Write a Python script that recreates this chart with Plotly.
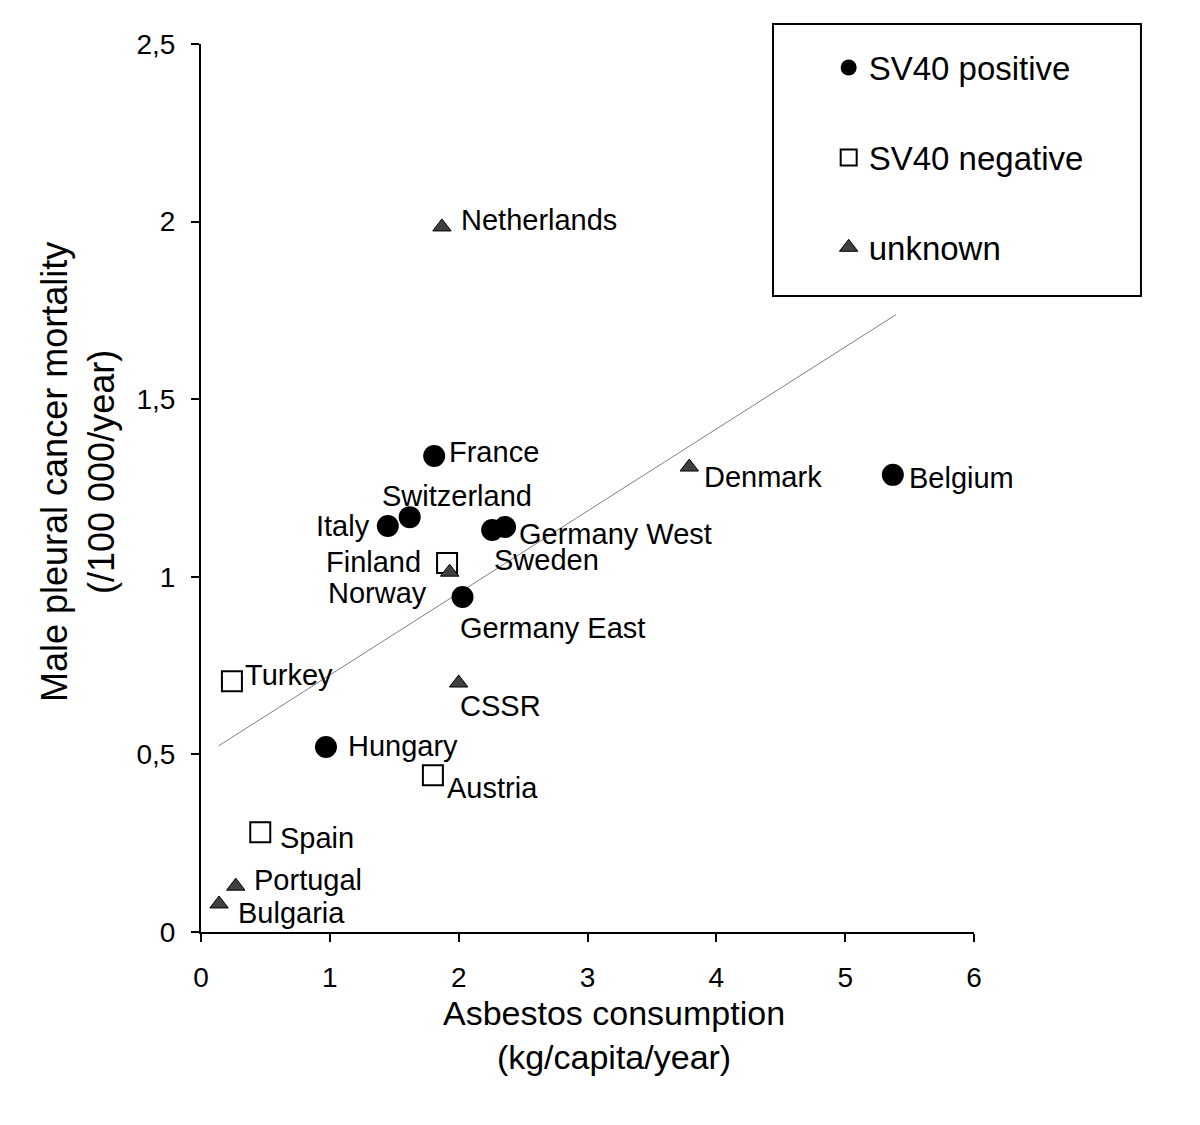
import plotly.graph_objects as go

FONT = "Liberation Sans, Arial, sans-serif"

# ---- data ----
pos_names = ["France", "Switzerland", "Italy", "Sweden", "Germany West",
             "Germany East", "Belgium", "Hungary"]
pos_x = [1.81, 1.62, 1.45, 2.26, 2.36, 2.03, 5.37, 0.97]
pos_y = [1.34, 1.168, 1.143, 1.132, 1.140, 0.943, 1.287, 0.521]

neg_names = ["Finland", "Turkey", "Austria", "Spain"]
neg_x = [1.91, 0.24, 1.80, 0.46]
neg_y = [1.039, 0.706, 0.441, 0.281]

unk_names = ["Netherlands", "Norway", "Denmark", "CSSR", "Portugal", "Bulgaria"]
unk_x = [1.87, 1.93, 3.79, 2.00, 0.27, 0.14]
unk_y = [1.985, 1.013, 1.309, 0.701, 0.129, 0.079]

trend_x = [0.136, 5.394]
trend_y = [0.524, 1.738]

x_ticks = [0, 1, 2, 3, 4, 5, 6]
y_ticks = [0, 0.5, 1, 1.5, 2, 2.5]
y_ticktext = ["0", "0,5", "1", "1,5", "2", "2,5"]

# label placement: (xanchor, xshift, yshift)
label_style = {
    "France": ("left", 13, 4),
    "Switzerland": ("center", 47, 21),
    "Italy": ("right", -16, 0),
    "Sweden": ("left", 0, -30),
    "Germany West": ("left", 12, -7),
    "Germany East": ("left", -5, -31),
    "Belgium": ("left", 14, -3),
    "Hungary": ("left", 20, 1),
    "Finland": ("right", -24, 1),
    "Turkey": ("left", 11, 6),
    "Austria": ("left", 12, -13),
    "Spain": ("left", 18, -6),
    "Netherlands": ("left", 17, 7),
    "Norway": ("right", -21, -21),
    "Denmark": ("left", 13, -10),
    "CSSR": ("left", -1, -23),
    "Portugal": ("left", 16, 6),
    "Bulgaria": ("left", 17, -9),
}

fig = go.Figure()

fig.add_trace(go.Scatter(
    x=trend_x, y=trend_y, mode="lines",
    line=dict(color="#808080", width=1), showlegend=False, hoverinfo="skip"))

fig.add_trace(go.Scatter(
    x=pos_x, y=pos_y, mode="markers", name="SV40 positive", legendgroup="a",
    marker=dict(symbol="circle", size=22, color="black", line=dict(width=0)),
    text=pos_names))
fig.add_trace(go.Scatter(
    x=neg_x, y=neg_y, mode="markers", name="SV40 negative", legendgroup="b",
    marker=dict(symbol="square-open", size=20, color="black", line=dict(width=2)),
    text=neg_names))
fig.add_trace(go.Scatter(
    x=unk_x, y=unk_y, mode="markers", name="unknown", legendgroup="c",
    marker=dict(symbol="triangle-up", size=16, color="#404040",
                line=dict(width=1, color="black")),
    text=unk_names))

annotations = []
for names, xs, ys in [(pos_names, pos_x, pos_y), (neg_names, neg_x, neg_y), (unk_names, unk_x, unk_y)]:
    for n, xv, yv in zip(names, xs, ys):
        xa, xs_, ys_ = label_style[n]
        annotations.append(dict(
            x=xv, y=yv, xref="x", yref="y", text=n, showarrow=False,
            xanchor=xa, yanchor="middle", xshift=xs_, yshift=ys_,
            font=dict(family=FONT, size=29, color="black")))

# axis titles
annotations.append(dict(
    x=0.5, y=0, xref="paper", yref="paper", xanchor="center", yanchor="top",
    xshift=26, yshift=-60, showarrow=False,
    text="Asbestos consumption<br>(kg/capita/year)",
    font=dict(family=FONT, size=34, color="black")))
annotations.append(dict(
    x=0, y=0.5, xref="paper", yref="paper", xanchor="right", yanchor="middle",
    xshift=-77, yshift=16, showarrow=False, textangle=-90,
    text="Male pleural cancer mortality<br>(/100 000/year)",
    font=dict(family=FONT, size=36, color="black")))

fig.update_layout(
    width=1200, height=1125,
    margin=dict(l=193, r=234, t=36, b=201),
    paper_bgcolor="white", plot_bgcolor="white",
    font=dict(family=FONT, color="black"),
    annotations=annotations,
    showlegend=True,
    legend=dict(
        x=0.812, y=1.005, xanchor="left", yanchor="top",
        bgcolor="rgba(0,0,0,0)", borderwidth=0,
        font=dict(family=FONT, size=33, color="black"),
        tracegroupgap=44, itemsizing="trace"),
    shapes=[dict(type="rect", xref="paper", yref="paper",
                 x0=0.740, x1=1.216, y0=0.7162, y1=1.0225,
                 line=dict(color="black", width=2), fillcolor="rgba(0,0,0,0)",
                 layer="below")],
)

fig.update_xaxes(
    range=[0, 6], tickvals=x_ticks, ticktext=[str(v) for v in x_ticks],
    showgrid=False, zeroline=False, showline=True, linecolor="black", linewidth=2,
    ticks="outside", ticklen=8, tickwidth=2, tickcolor="black",
    tickfont=dict(family=FONT, size=28, color="black"), ticklabelstandoff=11)
fig.update_yaxes(
    range=[0, 2.5], tickvals=y_ticks, ticktext=y_ticktext,
    showgrid=False, zeroline=False, showline=True, linecolor="black", linewidth=2,
    ticks="outside", ticklen=8, tickwidth=2, tickcolor="black",
    tickfont=dict(family=FONT, size=28, color="black"), ticklabelstandoff=10)

fig.write_html("out.html")
